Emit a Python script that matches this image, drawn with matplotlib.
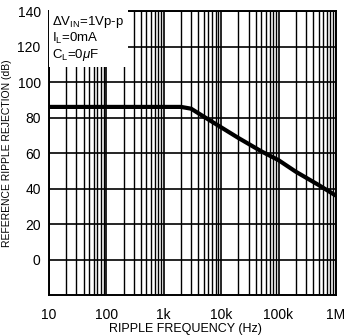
import numpy as np
import matplotlib
matplotlib.use('Agg')
import matplotlib.pyplot as plt
from matplotlib.ticker import FixedLocator, NullFormatter

plt.rcParams['font.family'] = ['Liberation Sans', 'DejaVu Sans']
plt.rcParams['mathtext.fontset'] = 'custom'
plt.rcParams['mathtext.rm'] = 'Liberation Sans'
plt.rcParams['mathtext.it'] = 'Liberation Sans:italic'

# curve
freq_hz = [10, 100, 1000, 2000, 3000, 5000, 10e3, 20e3, 50e3, 100e3, 200e3, 500e3, 1e6]
rejection_db = [86, 86, 86, 86, 85, 80.5, 74.5, 68.5, 61, 56, 49.5, 42, 36]

x_ticks = [10, 100, 1e3, 1e4, 1e5, 1e6]
x_labels = ['10', '100', '1k', '10k', '100k', '1M']
y_ticks = [0, 20, 40, 60, 80, 100, 120, 140]

fig = plt.figure(figsize=(3.44, 3.36), dpi=100)
ax = fig.add_axes([0.1424, 0.122, 0.834, 0.845])

ax.set_xscale('log')
ax.set_xlim(10, 1e6)
ax.set_ylim(-20, 140)

# log grid: decades plus 2..9
minor = [m * 10**d for d in range(1, 6) for m in range(2, 10)]
ax.xaxis.set_major_locator(FixedLocator(x_ticks))
ax.xaxis.set_minor_locator(FixedLocator(minor))
ax.xaxis.set_minor_formatter(NullFormatter())
ax.set_xticklabels(x_labels)
ax.set_yticks(y_ticks)

ax.grid(True, which='major', color='black', linewidth=1.2)
ax.grid(True, which='minor', axis='x', color='black', linewidth=1.0)
ax.tick_params(which='both', length=0, labelsize=10, pad=6)
ax.tick_params(axis='x', pad=9)
for s in ax.spines.values():
    s.set_linewidth(1.4)

ax.plot(freq_hz, rejection_db, color='black', linewidth=3, solid_capstyle='butt', zorder=3)

ax.text(0.012, 0.99,
        '$\\Delta$V$_{\\mathregular{IN}}$=1Vp-p\nI$_{\\mathregular{L}}$=0mA\nC$_{\\mathregular{L}}$=0$\\mu$F',
        transform=ax.transAxes, ha='left', va='top', fontsize=9.5, linespacing=1.1,
        bbox=dict(facecolor='white', edgecolor='none', pad=2.5), zorder=4)

ax.set_xlabel('RIPPLE FREQUENCY (Hz)', fontsize=9)
ax.xaxis.set_label_coords(0.474, -0.097)
ax.set_ylabel('REFERENCE RIPPLE REJECTION (dB)', fontsize=7.5)
ax.yaxis.set_label_coords(-0.13, 0.5)

fig.savefig('out.png', dpi=100)
